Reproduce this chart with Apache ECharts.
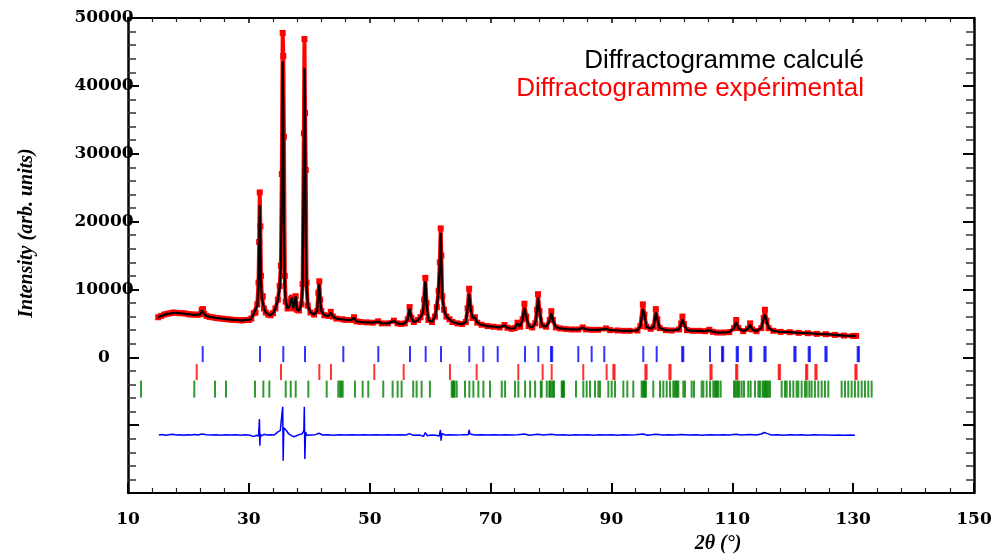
<!DOCTYPE html>
<html>
<head>
<meta charset="utf-8">
<script src="https://cdn.jsdelivr.net/npm/echarts@6/dist/echarts.min.js"></script>
<style>
  html, body { margin: 0; padding: 0; background: #fff; }
  #chart { width: 1000px; height: 558px; }
</style>
</head>
<body>
<div id="chart"></div>
<script>
// ---- Profile: 2θ, observed intensity, calculated intensity ----
const twoTheta = [
  15.0, 15.5, 16.0, 16.5, 17.0, 17.5, 18.0, 18.5, 19.0, 19.5,
  20.0, 20.5, 21.0, 21.5, 22.0, 22.2, 22.4, 22.6, 23.0, 23.5,
  24.0, 24.5, 25.0, 25.5, 26.0, 26.5, 27.0, 27.5, 28.0, 28.5,
  29.0, 29.5, 30.0, 30.4, 30.8, 31.1, 31.4, 31.6, 31.7, 31.8,
  31.9, 32.0, 32.15, 32.3, 32.5, 32.8, 33.2, 33.6, 34.0, 34.4,
  34.8, 35.1, 35.3, 35.45, 35.6, 35.7, 35.8, 35.95, 36.1, 36.4,
  36.7, 37.0, 37.15, 37.35, 37.6, 37.75, 37.95, 38.3, 38.7, 38.9,
  39.1, 39.2, 39.3, 39.42, 39.55, 39.75, 40.2, 40.8, 41.3, 41.5,
  41.65, 41.8, 42.0, 42.5, 43.2, 43.55, 43.9, 44.5, 45.5, 46.0,
  47.0, 47.4, 47.8, 48.5, 49.5, 50.5, 51.4, 52.0, 53.0, 54.0,
  54.6, 55.2, 55.8, 56.3, 56.6, 56.9, 57.3, 58.0, 58.4, 58.8,
  59.0, 59.2, 59.4, 59.7, 60.3, 60.8, 61.1, 61.4, 61.6, 61.75,
  61.85, 62.0, 62.3, 62.7, 63.2, 63.7, 64.5, 65.3, 65.9, 66.2,
  66.45, 66.7, 67.0, 67.4, 67.8, 68.5, 69.5, 70.5, 71.5, 72.3,
  72.8, 73.5, 74.0, 74.45, 74.9, 75.3, 75.6, 75.9, 76.3, 76.9,
  77.4, 77.7, 77.85, 78.1, 78.5, 79.2, 79.8, 80.05, 80.3, 80.8,
  81.5, 82.5, 83.5, 84.5, 85.25, 85.8, 86.8, 87.8, 89.1, 89.8,
  91.0, 92.0, 93.0, 94.3, 94.8, 95.2, 95.45, 95.8, 96.5, 97.0,
  97.35, 97.6, 98.0, 99.0, 100.0, 101.2, 101.55, 101.75, 102.0, 102.5,
  103.5, 104.5, 105.5, 106.2, 106.8, 107.5, 108.5, 109.5, 110.3, 110.65,
  111.0, 111.8, 112.6, 112.95, 113.3, 114.0, 114.8, 115.2, 115.4, 115.65,
  116.0, 116.8, 118.0, 119.5, 121.0, 122.5, 124.0, 125.5, 127.0, 128.5,
  130.0, 130.5
];
const iObs = [
  5900, 6100, 6300, 6400, 6500, 6600, 6550, 6500, 6500, 6450,
  6350, 6300, 6300, 6250, 6350, 7000, 7100, 6400, 6100, 5950,
  5900, 5800, 5750, 5700, 5650, 5600, 5550, 5500, 5500, 5450,
  5450, 5500, 5500, 5700, 6500, 6600, 7800, 11000, 17000, 24300,
  19300, 12000, 8800, 9000, 7200, 6600, 6300, 6200, 6500, 7200,
  8500, 10500, 13500, 27000, 47800, 44400, 32500, 12000, 8200, 7200,
  7600, 8600, 8800, 7200, 8000, 9000, 7000, 6900, 7800, 10800,
  33000, 46900, 36000, 27600, 11000, 7600, 6600, 6300, 6800, 9500,
  11200, 8500, 6800, 6200, 6100, 6700, 6000, 5700, 5600, 5500,
  5500, 5900, 5300, 5200, 5150, 5100, 5300, 5000, 5000, 5400,
  5000, 4900, 5000, 5600, 7400, 5800, 5200, 5500, 5900, 6600,
  8500, 11700, 8000, 5500, 5200, 6000, 7400, 9800, 14000, 19000,
  15000, 9000, 7000, 6000, 5600, 5200, 5000, 4900, 5200, 7200,
  10100, 7200, 5800, 5900, 5100, 4800, 4600, 4500, 4400, 4750,
  4350, 4200, 4300, 5100, 4500, 5600, 7900, 6000, 4600, 4400,
  5000, 7000, 9300, 6800, 4700, 4500, 5500, 6800, 5500, 4400,
  4250, 4150, 4100, 4100, 4400, 4100, 4050, 4050, 4250, 4000,
  3950, 3900, 3900, 3950, 4600, 7800, 6300, 4500, 4200, 4500,
  7100, 5600, 4300, 4000, 3950, 4100, 5000, 6000, 4900, 4000,
  3900, 3900, 3850, 4050, 3750, 3650, 3650, 3700, 4300, 5500,
  4300, 3850, 4200, 5000, 4100, 3850, 4300, 5800, 7000, 5400,
  4300, 3900, 3750, 3700, 3600, 3550, 3450, 3400, 3300, 3200,
  3150, 3150
];
const iCalc = [
  5900, 6100, 6250, 6400, 6450, 6550, 6550, 6500, 6450, 6400,
  6350, 6300, 6250, 6250, 6350, 6900, 7000, 6400, 6100, 5950,
  5900, 5800, 5750, 5700, 5650, 5600, 5550, 5500, 5500, 5450,
  5450, 5500, 5500, 5700, 6400, 6600, 7600, 10500, 16000, 22400,
  17500, 11000, 8800, 9000, 7200, 6600, 6300, 6200, 6500, 7200,
  8400, 10300, 13500, 25000, 43600, 37200, 20000, 10000, 8200, 7200,
  7500, 8500, 8800, 7200, 8000, 9000, 7000, 6900, 7800, 10500,
  30000, 42600, 36600, 18000, 10500, 7600, 6600, 6300, 6800, 9300,
  10800, 8500, 6800, 6200, 6100, 6600, 6000, 5700, 5600, 5500,
  5500, 5800, 5300, 5200, 5150, 5100, 5250, 5000, 5000, 5350,
  5000, 4900, 5000, 5600, 7200, 5800, 5200, 5500, 5900, 6600,
  8500, 11200, 8000, 5500, 5200, 6000, 7400, 9800, 14000, 18300,
  14000, 9000, 7000, 6000, 5600, 5200, 5000, 4900, 5200, 7200,
  9300, 7200, 5800, 5900, 5100, 4800, 4600, 4500, 4400, 4700,
  4350, 4200, 4300, 5000, 4500, 5600, 7300, 6000, 4600, 4400,
  5000, 7000, 8800, 6800, 4700, 4500, 5500, 6500, 5500, 4400,
  4250, 4150, 4100, 4100, 4350, 4100, 4050, 4050, 4200, 4000,
  3950, 3900, 3900, 3950, 4600, 7100, 6300, 4500, 4200, 4500,
  6600, 5600, 4300, 4000, 3950, 4100, 5000, 5600, 4900, 4000,
  3900, 3900, 3850, 4000, 3750, 3650, 3650, 3700, 4300, 5200,
  4300, 3850, 4200, 4800, 4100, 3850, 4300, 5800, 6300, 5400,
  4300, 3900, 3750, 3700, 3600, 3550, 3450, 3400, 3300, 3200,
  3150, 3150
];

// ---- Difference curve (offset) ----
const diffTheta = [
  15.1, 15.6, 16.2, 16.8, 17.4, 18.0, 18.6, 19.2, 19.8, 20.4,
  21.0, 21.6, 22.2, 22.5, 23.0, 23.8, 24.6, 25.4, 26.2, 27.0,
  27.8, 28.6, 29.4, 30.2, 30.8, 31.2, 31.6, 31.75, 31.82, 31.9,
  32.1, 32.5, 33.0, 33.6, 34.2, 34.8, 35.2, 35.5, 35.6, 35.68,
  35.78, 36.0, 36.3, 36.6, 37.0, 37.4, 37.8, 38.3, 38.8, 39.1,
  39.18, 39.27, 39.38, 39.6, 40.2, 41.0, 41.6, 42.2, 43.0, 44.0,
  45.0, 46.0, 47.0, 48.0, 49.0, 50.0, 51.0, 52.0, 53.0, 54.0,
  55.0, 56.0, 56.6, 57.2, 58.2, 58.9, 59.2, 59.5, 60.2, 60.9,
  61.5, 61.7, 61.82, 61.95, 62.4, 63.2, 64.2, 65.2, 66.3, 66.45,
  66.6, 67.4, 68.5, 69.5, 70.5, 71.5, 72.5, 73.5, 74.5, 75.6,
  76.4, 77.8, 78.8, 80.0, 81.0, 82.0, 83.0, 84.0, 85.0, 86.0,
  87.0, 88.0, 89.0, 90.0, 91.0, 92.0, 93.0, 94.0, 95.2, 96.0,
  97.4, 98.5, 99.5, 100.5, 101.7, 102.8, 104.0, 105.0, 106.2, 107.5,
  108.5, 109.5, 110.6, 111.5, 112.9, 114.0, 114.8, 115.3, 115.8, 116.5,
  117.5, 118.5, 119.5, 120.5, 121.5, 122.5, 123.5, 124.5, 125.5, 126.5,
  127.5, 128.5, 129.5, 130.3
];
const diffVal = [
  -11450, -11380, -11500, -11420, -11350, -11450, -11400, -11480, -11400, -11450,
  -11380, -11450, -11300, -11550, -11420, -11470, -11400, -11480, -11420, -11460,
  -11400, -11480, -11420, -11480, -11700, -11500, -11600, -9100, -13050, -11300,
  -11600, -11350, -11450, -11400, -11450, -11000, -10800, -10700, -7300, -15260,
  -10400, -10600, -10900, -11300, -11500, -11700, -11600, -11400, -11300, -10800,
  -7300, -15000, -11000, -11500, -11450, -11400, -11200, -11450, -11400, -11480,
  -11420, -11470, -11400, -11460, -11420, -11470, -11400, -11460, -11420, -11470,
  -11430, -11450, -11250, -11500, -11450, -11650, -11100, -11550, -11450, -11500,
  -11600, -10700, -12300, -11200, -11450, -11400, -11450, -11430, -11400, -10700,
  -11300, -11450, -11420, -11470, -11430, -11460, -11400, -11470, -11400, -11300,
  -11480, -11350, -11450, -11350, -11470, -11420, -11480, -11400, -11460, -11420,
  -11480, -11400, -11460, -11410, -11480, -11420, -11470, -11430, -11300, -11480,
  -11350, -11460, -11420, -11470, -11380, -11460, -11420, -11480, -11400, -11460,
  -11420, -11470, -11350, -11460, -11380, -11450, -11300, -11080, -11250, -11450,
  -11420, -11480, -11430, -11470, -11420, -11480, -11430, -11470, -11440, -11480,
  -11450, -11490, -11460, -11500
];

// ---- Bragg reflection positions (2θ) for the three phases ----
const braggBlue = [
  22.36, 31.84, 35.70, 39.29, 45.63, 51.42, 56.67, 59.26, 61.80, 66.48,
  68.80, 71.18, 75.70, 77.90, 80.0, 80.2, 84.52, 86.73, 88.82, 95.27,
  97.49, 101.7, 101.9, 106.31, 108.3, 108.5, 110.73, 110.93, 112.94, 113.14,
  115.31, 115.51, 120.27, 120.47, 122.64, 122.84, 125.41, 125.61, 130.75, 130.95
];
const braggRed = [
  21.37, 35.32, 41.66, 43.59, 50.76, 55.62, 63.28, 67.70, 74.59, 78.62,
  80.11, 85.34, 89.21, 90.32, 90.52, 95.62, 95.82, 99.59, 99.79, 106.38,
  106.58, 110.63, 110.83, 117.68, 117.88, 122.21, 122.41, 123.75, 123.95, 130.37,
  130.57
];
const braggGreen = [
  12.15, 20.97, 24.40, 26.22, 31.02, 32.40, 33.39, 36.10, 36.93, 37.75,
  39.84, 42.88, 44.80, 45.10, 45.30, 45.53, 47.56, 48.83, 49.76, 52.24,
  53.79, 54.62, 55.28, 57.20, 57.76, 58.59, 59.96, 63.57, 63.75, 63.9,
  64.05, 64.40, 65.77, 66.49, 67.15, 67.98, 68.81, 69.91, 71.85, 72.40,
  74.05, 74.60, 75.71, 76.54, 77.37, 78.31, 78.46, 79.30, 79.72, 79.85,
  80.11, 80.35, 80.50, 81.77, 81.90, 82.02, 82.15, 84.14, 85.35, 85.90,
  86.45, 87.28, 87.83, 88.11, 89.49, 90.04, 90.59, 91.97, 92.63, 93.62,
  95.00, 95.20, 95.39, 95.55, 95.72, 96.93, 98.04, 98.59, 99.14, 99.69,
  100.24, 100.45, 100.68, 100.88, 101.07, 101.90, 102.17, 103.28, 103.66, 104.93,
  105.21, 105.76, 106.31, 106.86, 107.10, 107.30, 107.50, 107.69, 108.08, 110.28,
  110.50, 110.72, 110.95, 111.16, 111.55, 111.94, 112.65, 113.04, 113.76, 114.31,
  114.58, 115.00, 115.20, 115.41, 115.60, 115.80, 116.00, 116.24, 118.17, 118.72,
  119.00, 119.55, 120.10, 120.65, 120.93, 121.48, 122.03, 122.31, 122.75, 123.13,
  123.68, 124.24, 124.79, 125.34, 125.89, 128.10, 128.65, 129.20, 129.75, 130.30,
  130.85, 131.41, 131.96, 132.51, 133.06
];
// vertical centre of each row of Bragg marks (intensity units)
const braggRowY = { blue: 470, red: -2180, green: -4690 };

// ---- Axis ticks ----
const xTicks = [10, 30, 50, 70, 90, 110, 130, 150];
const yTicks = [-20000, -10000, 0, 10000, 20000, 30000, 40000, 50000];

// ---- Texts ----
const legendCalc = 'Diffractogramme calculé';
const legendExp = 'Diffractogramme expérimental';
const yTitle = 'Intensity (arb. units)';
const xTitle = '2θ (°)';

// ---- Build ----
const obsData = twoTheta.map((t, i) => [t, iObs[i]]);
const calcData = twoTheta.map((t, i) => [t, iCalc[i]]);
const diffData = diffTheta.map((t, i) => [t, diffVal[i]]);
const mk = (arr, y) => arr.map(t => [t, y]);

const labelFont = { fontFamily: 'DejaVu Serif', fontWeight: 'bold', fontSize: 17, color: '#000' };
const xMin = xTicks[0], xMax = xTicks[xTicks.length - 1], xInt = xTicks[1] - xTicks[0];
const yMin = yTicks[0], yMax = yTicks[yTicks.length - 1], yInt = yTicks[1] - yTicks[0];

const chart = echarts.init(document.getElementById('chart'), null, { renderer: 'canvas' });
chart.setOption({
  animation: false,
  backgroundColor: '#fff',
  grid: { left: 128, right: 26, top: 18, bottom: 65 },
  xAxis: [
    {
      type: 'value', position: 'bottom', min: xMin, max: xMax, interval: xInt,
      axisLine: { show: true, onZero: false, lineStyle: { color: '#000', width: 2 } },
      axisTick: { show: true, inside: true, length: 10, lineStyle: { color: '#000', width: 2 } },
      minorTick: { show: true, splitNumber: 5, length: 5, lineStyle: { color: '#222', width: 1.2 } },
      axisLabel: Object.assign({ margin: 18 }, labelFont),
      splitLine: { show: false }
    },
    {
      type: 'value', position: 'top', min: xMin, max: xMax, interval: xInt,
      axisLine: { show: true, onZero: false, lineStyle: { color: '#000', width: 2 } },
      axisTick: { show: true, inside: true, length: 5, lineStyle: { color: '#000', width: 1.5 } },
      minorTick: { show: true, splitNumber: 5, length: 4, lineStyle: { color: '#222', width: 1.2 } },
      axisLabel: { show: false },
      splitLine: { show: false }
    }
  ],
  yAxis: [
    {
      type: 'value', position: 'left', min: yMin, max: yMax, interval: yInt,
      axisLine: { show: true, onZero: false, lineStyle: { color: '#000', width: 2.5 } },
      axisTick: { show: true, inside: true, length: 11, lineStyle: { color: '#000', width: 2 } },
      minorTick: { show: true, splitNumber: 5, length: 8, lineStyle: { color: '#333', width: 1.5 } },
      axisLabel: Object.assign({
        margin: 24, align: 'center',
        formatter: v => (v >= 0 ? String(v) : '')
      }, labelFont),
      splitLine: { show: false }
    },
    {
      type: 'value', position: 'right', min: yMin, max: yMax, interval: yInt,
      axisLine: { show: true, onZero: false, lineStyle: { color: '#000', width: 2.5 } },
      axisTick: { show: true, inside: true, length: 11, lineStyle: { color: '#000', width: 2 } },
      minorTick: { show: true, splitNumber: 5, length: 8, lineStyle: { color: '#333', width: 1.5 } },
      axisLabel: { show: false },
      splitLine: { show: false }
    }
  ],
  series: [
    {
      name: legendExp, type: 'line', data: obsData, z: 2,
      symbol: 'rect', symbolSize: 6, showSymbol: true,
      itemStyle: { color: '#ff0000' },
      lineStyle: { color: '#ff0000', width: 4 }
    },
    {
      name: legendCalc, type: 'line', data: calcData, z: 3,
      showSymbol: false,
      lineStyle: { color: '#000000', width: 2.2 }
    },
    {
      name: 'Différence', type: 'line', data: diffData, z: 3,
      showSymbol: false,
      lineStyle: { color: '#0000ff', width: 1.5 }
    },
    {
      name: 'Phase 1', type: 'scatter', data: mk(braggBlue, braggRowY.blue),
      symbol: 'rect', symbolSize: [2, 16], itemStyle: { color: '#0000ff' }, silent: true
    },
    {
      name: 'Phase 2', type: 'scatter', data: mk(braggRed, braggRowY.red),
      symbol: 'rect', symbolSize: [2, 16], itemStyle: { color: '#ff0000' }, silent: true
    },
    {
      name: 'Phase 3', type: 'scatter', data: mk(braggGreen, braggRowY.green),
      symbol: 'rect', symbolSize: [2, 17], itemStyle: { color: '#008000' }, silent: true
    }
  ],
  graphic: [
    {
      type: 'text', x: 864, y: 61,
      style: { text: legendCalc, fill: '#000', align: 'right', verticalAlign: 'middle',
               font: '26px "Liberation Sans", Arial, sans-serif' }
    },
    {
      type: 'text', x: 864, y: 89,
      style: { text: legendExp, fill: '#ff0000', align: 'right', verticalAlign: 'middle',
               font: '26px "Liberation Sans", Arial, sans-serif' }
    },
    {
      type: 'text', x: 27, y: 233, rotation: Math.PI / 2,
      style: { text: yTitle, fill: '#000', align: 'center', verticalAlign: 'middle',
               font: 'italic bold 20px "Liberation Serif", "Times New Roman", serif' }
    },
    {
      type: 'text', x: 718, y: 544,
      style: { text: xTitle, fill: '#000', align: 'center', verticalAlign: 'middle',
               font: 'italic bold 20px "Liberation Serif", "Times New Roman", serif' }
    }
  ]
});
</script>
</body>
</html>
